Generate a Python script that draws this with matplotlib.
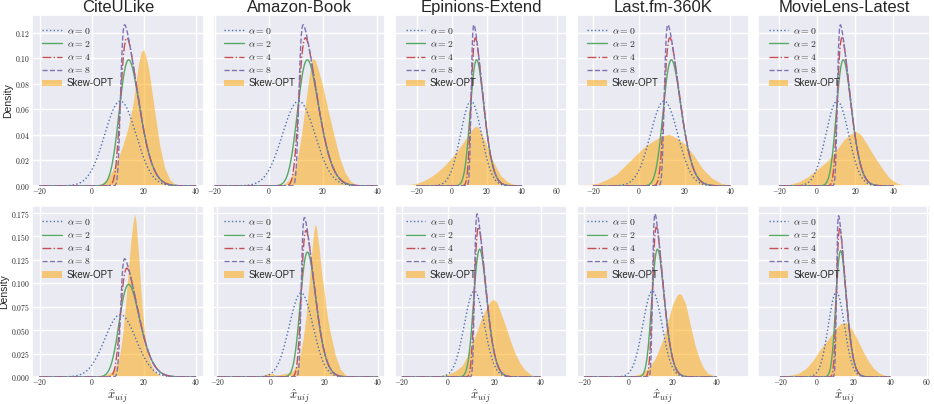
import math
import numpy as np
import matplotlib
matplotlib.use("Agg")
import matplotlib.pyplot as plt
from matplotlib.ticker import FuncFormatter, MultipleLocator
import seaborn as sns

sns.set_theme(style="darkgrid")
plt.rcParams["font.family"] = ["Liberation Sans", "DejaVu Sans"]
plt.rcParams["mathtext.fontset"] = "cm"

datasets = ["CiteULike", "Amazon-Book", "Epinions-Extend", "Last.fm-360K", "MovieLens-Latest"]
alphas = [0, 2, 4, 8]

# skew-normal reference curves: location / scale per panel
curve_loc_top = [11.0, 11.0, 11.0, 11.0, 10.5]
curve_scale_top = [6.0, 6.0, 6.0, 6.0, 6.0]
curve_loc_bottom = [11.0, 11.3, 11.3, 10.9, 10.6]
curve_scale_bottom = [6.0, 4.45, 4.35, 4.35, 4.4]
curve_range = (-20, 40)

xlim_top = [(-23, 43), (-20.5, 43), (-32.3, 65.7), (-27.3, 48), (-31, 59.4)]
xlim_bottom = [(-23, 43), (-21.5, 42.8), (-23, 51.4), (-23.5, 54.6), (-32, 61.8)]

# Skew-OPT histograms (density read at x positions)
cite_top_x = [2, 4, 6, 8, 10, 12, 14, 16, 17, 18, 19, 20, 21, 22, 24, 26, 28, 30, 32, 34]
cite_top_d = [0, 0.002, 0.005, 0.012, 0.021, 0.032, 0.046, 0.066, 0.082, 0.096, 0.105, 0.107,
              0.100, 0.090, 0.061, 0.033, 0.014, 0.005, 0.001, 0]
amazon_top_x = [4, 6, 8, 10, 12, 13, 14, 15, 16, 17, 18, 20, 22, 24, 26, 28, 30, 32, 34]
amazon_top_d = [0, 0.002, 0.006, 0.015, 0.040, 0.056, 0.072, 0.088, 0.100, 0.099, 0.093, 0.077,
                0.058, 0.040, 0.023, 0.011, 0.004, 0.001, 0]
epinions_top_x = [-28, -24, -20, -16, -12, -8, -4, 0, 4, 8, 12, 14, 16, 20, 24, 28, 32, 36, 40]
epinions_top_d = [0, 0.001, 0.002, 0.004, 0.007, 0.011, 0.016, 0.022, 0.029, 0.037, 0.045, 0.047,
                  0.044, 0.032, 0.018, 0.008, 0.003, 0.001, 0]
lastfm_top_x = [-26, -22, -18, -14, -10, -6, -2, 2, 6, 10, 13, 16, 20, 24, 28, 32, 36, 40, 44]
lastfm_top_d = [0.0003, 0.001, 0.002, 0.005, 0.009, 0.016, 0.023, 0.030, 0.035, 0.039, 0.0405,
                0.038, 0.033, 0.024, 0.013, 0.006, 0.002, 0.0005, 0]
movielens_top_x = [-20, -15, -10, -5, 0, 5, 10, 14, 17, 20, 23, 26, 30, 34, 38, 42, 46, 50]
movielens_top_d = [0.0003, 0.001, 0.003, 0.007, 0.013, 0.019, 0.028, 0.036, 0.040, 0.043, 0.040,
                   0.033, 0.023, 0.014, 0.006, 0.002, 0.0005, 0]

cite_bot_x = [2, 4, 6, 8, 10, 11, 12, 13, 14, 15, 16, 16.5, 17, 18, 19, 20, 21, 22, 24, 26, 28]
cite_bot_d = [0, 0.001, 0.003, 0.006, 0.016, 0.028, 0.048, 0.078, 0.112, 0.145, 0.168, 0.174,
              0.166, 0.130, 0.088, 0.055, 0.033, 0.019, 0.006, 0.002, 0]
amazon_bot_x = [-4, -2, 0, 2, 4, 6, 8, 10, 11, 12, 13, 14, 15, 16, 16.5, 17, 18, 19, 20, 21, 22,
                24, 26, 28, 30]
amazon_bot_d = [0, 0.003, 0.004, 0.002, 0.003, 0.004, 0.006, 0.014, 0.025, 0.040, 0.062, 0.092,
                0.125, 0.155, 0.163, 0.160, 0.138, 0.110, 0.090, 0.066, 0.050, 0.024, 0.008,
                0.002, 0]
epinions_bot_x = [-8, -4, 0, 3, 6, 8, 10, 12, 14, 16, 18, 19.5, 21, 23, 25, 27, 29, 31, 33, 36, 40]
epinions_bot_d = [0, 0.001, 0.003, 0.006, 0.012, 0.021, 0.034, 0.046, 0.060, 0.071, 0.080, 0.083,
                  0.080, 0.067, 0.053, 0.038, 0.025, 0.015, 0.008, 0.002, 0]
lastfm_bot_x = [-2, 2, 6, 9, 12, 14, 16, 18, 20, 22, 23, 24, 26, 28, 30, 32, 34, 36, 39, 42]
lastfm_bot_d = [0, 0.001, 0.004, 0.009, 0.019, 0.030, 0.042, 0.060, 0.077, 0.087, 0.089, 0.088,
                0.078, 0.057, 0.036, 0.021, 0.010, 0.004, 0.001, 0]
movielens_bot_x = [-22, -18, -14, -10, -6, -2, 2, 6, 10, 13, 16, 19, 22, 25, 28, 31, 34, 38, 42]
movielens_bot_d = [0, 0.001, 0.002, 0.004, 0.009, 0.018, 0.030, 0.040, 0.051, 0.057, 0.058,
                   0.051, 0.040, 0.028, 0.017, 0.009, 0.004, 0.001, 0]

hist_top = [(cite_top_x, cite_top_d), (amazon_top_x, amazon_top_d), (epinions_top_x, epinions_top_d),
            (lastfm_top_x, lastfm_top_d), (movielens_top_x, movielens_top_d)]
hist_bottom = [(cite_bot_x, cite_bot_d), (amazon_bot_x, amazon_bot_d), (epinions_bot_x, epinions_bot_d),
               (lastfm_bot_x, lastfm_bot_d), (movielens_bot_x, movielens_bot_d)]

line_styles = [":", "-", "-.", "--"]
pal = sns.color_palette("deep")
line_colors = [pal[0], pal[2], pal[3], pal[4]]

erf = np.vectorize(math.erf)


def skew_normal_pdf(x, loc, scale, a):
    z = (x - loc) / scale
    phi = np.exp(-0.5 * z ** 2) / np.sqrt(2 * np.pi)
    cdf = 0.5 * (1 + erf(a * z / np.sqrt(2)))
    return 2.0 / scale * phi * cdf


fig, axes = plt.subplots(2, 5, figsize=(9.34, 4.04), dpi=100, sharey="row")
fig.subplots_adjust(left=0.034, right=0.996, top=0.963, bottom=0.067, wspace=0.056, hspace=0.118)

rows = [
    (curve_loc_top, curve_scale_top, xlim_top, hist_top, 0.02, "%.2f"),
    (curve_loc_bottom, curve_scale_bottom, xlim_bottom, hist_bottom, 0.025, "%.3f"),
]

xs = np.linspace(curve_range[0], curve_range[1], 600)
for r, (locs, scales, xlims, hists, ystep, yfmt) in enumerate(rows):
    for c in range(5):
        ax = axes[r, c]
        hx, hd = hists[c]
        for a, ls, col in zip(alphas, line_styles, line_colors):
            ax.plot(xs, skew_normal_pdf(xs, locs[c], scales[c], a), ls=ls, color=col,
                    lw=1.0, label=r"$\alpha = %d$" % a, zorder=3)
        ax.fill_between(hx, hd, color="orange", alpha=0.5, lw=0, label="Skew-OPT", zorder=2)
        ax.set_xlim(*xlims[c])
        ax.xaxis.set_major_locator(MultipleLocator(20))
        ax.yaxis.set_major_locator(MultipleLocator(ystep))
        ax.xaxis.set_major_formatter(FuncFormatter(lambda v, p: r"$%g$" % v))
        ax.yaxis.set_major_formatter(FuncFormatter(lambda v, p, f=yfmt: r"$" + (f % v) + "$"))
        ax.tick_params(labelsize=5.5, length=0)
        ax.tick_params(axis="x", pad=0.3)
        ax.tick_params(axis="y", pad=1.2)
        ax.legend(loc="upper left", frameon=False, fontsize=7, handlelength=2.0,
                  handletextpad=0.5, labelspacing=0.33, borderaxespad=0.7)
        if r == 0:
            ax.set_title(datasets[c], fontsize=12, pad=2)
        else:
            ax.set_xlabel(r"$\hat{x}_{uij}$", fontsize=9, labelpad=0)
        if c == 0:
            ax.set_ylabel("Density", fontsize=7.5, labelpad=1.5)

axes[0, 0].set_ylim(0, 0.134)
axes[1, 0].set_ylim(0, 0.1825)

fig.savefig("out.png", dpi=100)
